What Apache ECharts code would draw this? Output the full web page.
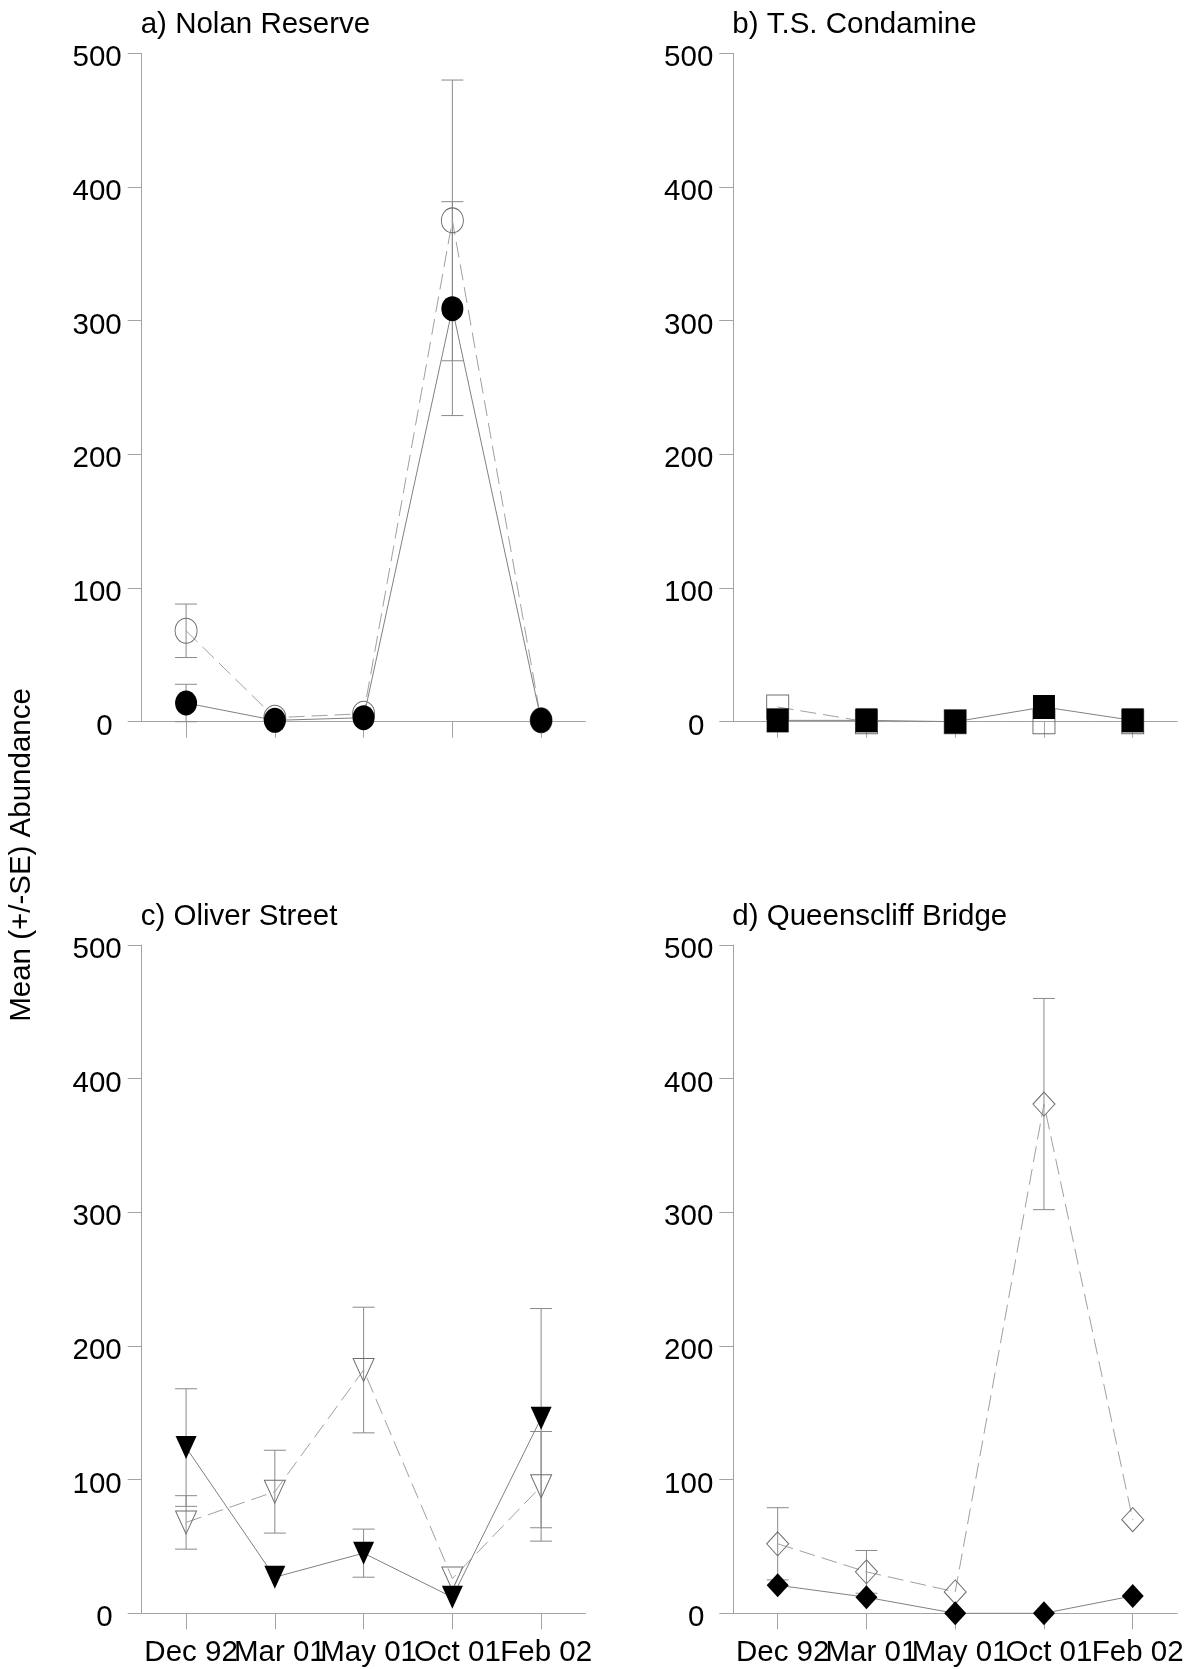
<!DOCTYPE html>
<html>
<head>
<meta charset="utf-8">
<script src="https://cdn.jsdelivr.net/npm/echarts@6/dist/echarts.min.js"></script>
<style>
html, body { margin: 0; padding: 0; background: #fff; }
#chart { width: 1189px; height: 1669px; }
</style>
</head>
<body>
<div id="chart"></div>
<script>
// sampling dates
var months = ['Dec 92', 'Mar 01', 'May 01', 'Oct 01', 'Feb 02'];
var panelTitles = ['a) Nolan Reserve', 'b) T.S. Condamine', 'c) Oliver Street', 'd) Queenscliff Bridge'];
var yTitle = 'Mean (+/-SE) Abundance';

// a) Nolan Reserve
var nolanOpen = [68, 3, 6, 375, 1];
var nolanOpenSE = [20, 0, 0, 105, 0];
var nolanFilled = [14, 1, 3, 309, 1];
var nolanFilledSE = [14, 0, 0, 80, 0];
// b) T.S. Condamine
var condOpen = [11, 0, 0, 0, 0];
var condOpenSE = [0, 0, 0, 0, 0];
var condFilled = [1, 1, 0, 11, 1];
var condFilledSE = [0, 0, 0, 0, 0];
// c) Oliver Street
var oliverOpen = [68, 91, 182, 26, 95];
var oliverOpenSE = [20, 31, 47, 0, 41];
var oliverFilled = [124, 27, 45, 12, 146];
var oliverFilledSE = [44, 0, 18, 0, 82];
// d) Queenscliff Bridge
var queensOpen = [52, 31, 16, 381, 70];
var queensOpenSE = [27, 16, 0, 79, 0];
var queensFilled = [21, 12, 0, 0, 13];
var queensFilledSE = [0, 0, 0, 0, 0];

var myChart = echarts.init(document.getElementById('chart'), null, {renderer: 'canvas'});

var FONT = 'Liberation Sans, Arial, sans-serif';
var FS = 29.5;
var AXIS_GREY = '#a3a3a3';

//面板位置
var grids = [
	{left: 141.7, top: 53.3, width: 443.8, height: 668.4},
	{left: 733.3, top: 53.3, width: 443.8, height: 668.4},
	{left: 141.7, top: 945, width: 443.8, height: 668.3},
	{left: 733.3, top: 945, width: 443.8, height: 668.3}
];

var panels = [
	{open: nolanOpen, openSE: nolanOpenSE, filled: nolanFilled, filledSE: nolanFilledSE, symbol: 'circle', size: [22, 25]},
	{open: condOpen, openSE: condOpenSE, filled: condFilled, filledSE: condFilledSE, symbol: 'rect', size: [22, 24]},
	{open: oliverOpen, openSE: oliverOpenSE, filled: oliverFilled, filledSE: oliverFilledSE, symbol: 'triangle', size: [21, 23], rotate: 180},
	{open: queensOpen, openSE: queensOpenSE, filled: queensFilled, filledSE: queensFilledSE, symbol: 'diamond', size: [22, 24]}
];

function errData(mean, se) {
	var out = [];
	for (var i = 0; i < mean.length; i++) {
		if (se[i] > 0) out.push([i, Math.max(0, mean[i] - se[i]), mean[i] + se[i]]);
	}
	return out;
}

function errRender(params, api) {
	var lo = api.coord([api.value(0), api.value(1)]);
	var hi = api.coord([api.value(0), api.value(2)]);
	var half = 11;
	var st = {stroke: '#8a8a8a', lineWidth: 1};
	return {
		type: 'group',
		children: [
			{type: 'line', shape: {x1: hi[0], y1: hi[1], x2: lo[0], y2: lo[1]}, style: st},
			{type: 'line', shape: {x1: hi[0] - half, y1: hi[1], x2: hi[0] + half, y2: hi[1]}, style: st},
			{type: 'line', shape: {x1: lo[0] - half, y1: lo[1], x2: lo[0] + half, y2: lo[1]}, style: st}
		]
	};
}

var xAxes = [], yAxes = [], series = [], titles = [];

for (var p = 0; p < 4; p++) {
	var g = grids[p], pn = panels[p], bottomRow = p >= 2;
	titles.push({
		text: panelTitles[p],
		left: g.left - 1,
		top: g.top - 43,
		padding: 0,
		textStyle: {fontFamily: FONT, fontSize: FS, fontWeight: 'normal', color: '#000'}
	});
	xAxes.push({
		type: 'category',
		gridIndex: p,
		data: months,
		boundaryGap: true,
		axisLine: {lineStyle: {color: AXIS_GREY, width: 1}},
		axisTick: {show: true, alignWithLabel: true, length: 16, lineStyle: {color: AXIS_GREY}},
		axisLabel: {
			show: bottomRow,
			interval: 0,
			margin: 25,
			padding: [0, 0, 0, 10],
			fontFamily: FONT,
			fontSize: FS,
			color: '#000'
		},
		splitLine: {show: false}
	});
	yAxes.push({
		type: 'value',
		gridIndex: p,
		min: 0,
		max: 500,
		interval: 100,
		axisLine: {show: true, lineStyle: {color: AXIS_GREY, width: 1}},
		axisTick: {show: true, length: 14, lineStyle: {color: AXIS_GREY}},
		axisLabel: {
			margin: 20,
			padding: [10, 0, 0, 0],
			fontFamily: FONT,
			fontSize: FS,
			color: '#000',
			formatter: function (v) { return v === 0 ? '{z|0}' : String(v); },
			rich: {z: {fontFamily: FONT, fontSize: FS, color: '#000', padding: [0, 9, 0, 0]}}
		},
		splitLine: {show: false}
	});

	//误差线
	series.push({
		type: 'custom',
		xAxisIndex: p, yAxisIndex: p,
		renderItem: errRender,
		data: errData(pn.open, pn.openSE),
		z: 1
	});
	series.push({
		type: 'custom',
		xAxisIndex: p, yAxisIndex: p,
		renderItem: errRender,
		data: errData(pn.filled, pn.filledSE),
		z: 1
	});
	//空心符号 虚线
	series.push({
		type: 'line',
		xAxisIndex: p, yAxisIndex: p,
		data: pn.open,
		symbol: pn.symbol,
		symbolSize: pn.size,
		symbolRotate: pn.rotate || 0,
		showAllSymbol: true,
		lineStyle: {color: '#a0a0a0', width: 1, type: [16, 7]},
		itemStyle: {color: 'rgba(0,0,0,0)', borderColor: '#6e6e6e', borderWidth: 1},
		emphasis: {disabled: true},
		z: 2
	});
	//实心符号 实线
	series.push({
		type: 'line',
		xAxisIndex: p, yAxisIndex: p,
		data: pn.filled,
		symbol: pn.symbol,
		symbolSize: pn.size,
		symbolRotate: pn.rotate || 0,
		showAllSymbol: true,
		lineStyle: {color: '#808080', width: 1, type: 'solid'},
		itemStyle: {color: '#000', borderWidth: 0},
		emphasis: {disabled: true},
		z: 3
	});
}

var option = {
	animation: false,
	backgroundColor: '#fff',
	title: titles,
	grid: grids,
	xAxis: xAxes,
	yAxis: yAxes,
	series: series,
	graphic: [{
		type: 'text',
		x: 22,
		y: 855,
		rotation: Math.PI / 2,
		style: {
			text: yTitle,
			fontFamily: FONT,
			fontSize: FS,
			fill: '#000',
			align: 'center',
			verticalAlign: 'middle'
		}
	}]
};

myChart.setOption(option, true);
window.onresize = myChart.resize;
</script>
</body>
</html>
